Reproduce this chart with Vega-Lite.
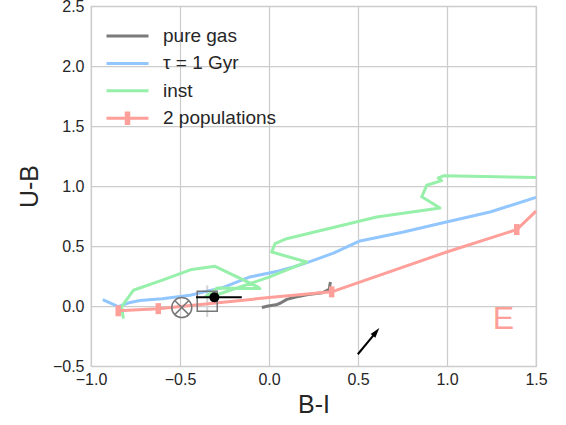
{
  "$schema": "https://vega.github.io/schema/vega-lite/v6.json",
  "width": 445,
  "height": 360,
  "autosize": "none",
  "padding": {"left": 91, "top": 6, "right": 30, "bottom": 59},
  "background": "white",
  "config": {
    "font": "Liberation Sans",
    "view": {"stroke": "#cccccc", "strokeWidth": 1.25},
    "axis": {
      "grid": true, "gridColor": "#cccccc", "gridWidth": 1.25,
      "domain": false, "ticks": false,
      "labelFlush": false, "labelOverlap": false, "labelBound": false,
      "labelFontSize": 16, "labelColor": "#262626",
      "titleFontSize": 25, "titleFontWeight": "normal", "titleColor": "#262626"
    }
  },
  "datasets": {
    "lines": [
      {"series": "pure gas", "ord": 1, "x": -0.04, "y": -0.012},
      {"series": "pure gas", "ord": 2, "x": -0.005, "y": 0.0},
      {"series": "pure gas", "ord": 3, "x": 0.04, "y": 0.01},
      {"series": "pure gas", "ord": 4, "x": 0.065, "y": 0.025},
      {"series": "pure gas", "ord": 5, "x": 0.10, "y": 0.055},
      {"series": "pure gas", "ord": 6, "x": 0.15, "y": 0.075},
      {"series": "pure gas", "ord": 7, "x": 0.22, "y": 0.095},
      {"series": "pure gas", "ord": 8, "x": 0.30, "y": 0.11},
      {"series": "pure gas", "ord": 9, "x": 0.338, "y": 0.14},
      {"series": "pure gas", "ord": 10, "x": 0.345, "y": 0.2},

      {"series": "τ = 1 Gyr", "ord": 1, "x": -0.934, "y": 0.053},
      {"series": "τ = 1 Gyr", "ord": 2, "x": -0.847, "y": -0.005},
      {"series": "τ = 1 Gyr", "ord": 3, "x": -0.78, "y": 0.03},
      {"series": "τ = 1 Gyr", "ord": 4, "x": -0.725, "y": 0.045},
      {"series": "τ = 1 Gyr", "ord": 5, "x": -0.6, "y": 0.06},
      {"series": "τ = 1 Gyr", "ord": 6, "x": -0.444, "y": 0.089},
      {"series": "τ = 1 Gyr", "ord": 7, "x": -0.257, "y": 0.155},
      {"series": "τ = 1 Gyr", "ord": 8, "x": -0.107, "y": 0.242},
      {"series": "τ = 1 Gyr", "ord": 9, "x": 0.05, "y": 0.29},
      {"series": "τ = 1 Gyr", "ord": 10, "x": 0.137, "y": 0.325},
      {"series": "τ = 1 Gyr", "ord": 11, "x": 0.23, "y": 0.37},
      {"series": "τ = 1 Gyr", "ord": 12, "x": 0.362, "y": 0.44},
      {"series": "τ = 1 Gyr", "ord": 13, "x": 0.511, "y": 0.542},
      {"series": "τ = 1 Gyr", "ord": 14, "x": 0.75, "y": 0.615},
      {"series": "τ = 1 Gyr", "ord": 15, "x": 0.96, "y": 0.687},
      {"series": "τ = 1 Gyr", "ord": 16, "x": 1.242, "y": 0.783},
      {"series": "τ = 1 Gyr", "ord": 17, "x": 1.5, "y": 0.905},

      {"series": "inst", "ord": 1, "x": -0.818, "y": -0.105},
      {"series": "inst", "ord": 2, "x": -0.828, "y": -0.005},
      {"series": "inst", "ord": 3, "x": -0.762, "y": 0.131},
      {"series": "inst", "ord": 4, "x": -0.603, "y": 0.214},
      {"series": "inst", "ord": 5, "x": -0.434, "y": 0.305},
      {"series": "inst", "ord": 6, "x": -0.303, "y": 0.331},
      {"series": "inst", "ord": 7, "x": -0.069, "y": 0.164},
      {"series": "inst", "ord": 8, "x": -0.051, "y": 0.145},
      {"series": "inst", "ord": 9, "x": -0.29, "y": 0.15},
      {"series": "inst", "ord": 10, "x": -0.355, "y": 0.08},
      {"series": "inst", "ord": 11, "x": -0.33, "y": 0.075},
      {"series": "inst", "ord": 12, "x": 0.0, "y": 0.24},
      {"series": "inst", "ord": 13, "x": 0.212, "y": 0.367},
      {"series": "inst", "ord": 14, "x": 0.015, "y": 0.45},
      {"series": "inst", "ord": 15, "x": 0.034, "y": 0.52},
      {"series": "inst", "ord": 16, "x": 0.099, "y": 0.561},
      {"series": "inst", "ord": 17, "x": 0.605, "y": 0.742},
      {"series": "inst", "ord": 18, "x": 0.961, "y": 0.817},
      {"series": "inst", "ord": 19, "x": 0.858, "y": 0.91},
      {"series": "inst", "ord": 20, "x": 0.886, "y": 1.006},
      {"series": "inst", "ord": 21, "x": 0.97, "y": 1.045},
      {"series": "inst", "ord": 22, "x": 0.951, "y": 1.067},
      {"series": "inst", "ord": 23, "x": 0.98, "y": 1.085},
      {"series": "inst", "ord": 24, "x": 1.5, "y": 1.07},

      {"series": "2 populations", "ord": 1, "x": -0.847, "y": -0.04},
      {"series": "2 populations", "ord": 2, "x": -0.622, "y": -0.022},
      {"series": "2 populations", "ord": 3, "x": -0.3, "y": 0.025},
      {"series": "2 populations", "ord": 4, "x": 0.0, "y": 0.07},
      {"series": "2 populations", "ord": 5, "x": 0.352, "y": 0.118},
      {"series": "2 populations", "ord": 6, "x": 0.998, "y": 0.45},
      {"series": "2 populations", "ord": 7, "x": 1.392, "y": 0.637},
      {"series": "2 populations", "ord": 8, "x": 1.5, "y": 0.79}
    ],
    "markers": [
      {"x": -0.847, "y": -0.04},
      {"x": -0.622, "y": -0.022},
      {"x": 0.352, "y": 0.118},
      {"x": 1.392, "y": 0.637}
    ],
    "obs": [
      {"kind": "circle", "x": -0.49, "y": -0.013},
      {"kind": "square", "x": -0.347, "y": 0.04},
      {"kind": "dot", "x": -0.307, "y": 0.072}
    ],
    "bars": [
      {"kind": "vert", "x": -0.347, "x2": -0.347, "y": -0.092, "y2": 0.172},
      {"kind": "horiz", "x": -0.41, "x2": -0.153, "y": 0.072, "y2": 0.072},
      {"kind": "arrow", "x": 0.499, "x2": 0.597, "y": -0.402, "y2": -0.226}
    ],
    "arrowhead": [{"x": 0.602, "y": -0.216}],
    "labels": [{"x": 1.317, "y": -0.105, "text": "E"}]
  },
  "layer": [
    {
      "data": {"name": "bars"},
      "transform": [{"filter": "datum.kind === 'vert'"}],
      "mark": {"type": "rule", "color": "#d3d3d3", "strokeWidth": 2},
      "encoding": {
        "x": {"field": "x", "type": "quantitative"},
        "y": {"field": "y", "type": "quantitative"},
        "y2": {"field": "y2"}
      }
    },
    {
      "data": {"name": "lines"},
      "mark": {"type": "line", "strokeWidth": 3, "strokeJoin": "round"},
      "encoding": {
        "x": {
          "field": "x", "type": "quantitative",
          "scale": {"domain": [-1, 1.5], "nice": false, "zero": false},
          "axis": {"values": [-1, -0.5, 0, 0.5, 1, 1.5], "format": ".1f", "title": "B-I", "labelPadding": 5, "titlePadding": 5}
        },
        "y": {
          "field": "y", "type": "quantitative",
          "scale": {"domain": [-0.5, 2.5], "nice": false, "zero": false},
          "axis": {"values": [-0.5, 0, 0.5, 1, 1.5, 2, 2.5], "format": ".1f", "title": "U-B", "labelPadding": 7, "titlePadding": 10}
        },
        "order": {"field": "ord", "type": "quantitative"},
        "color": {
          "field": "series", "type": "nominal",
          "scale": {
            "domain": ["pure gas", "τ = 1 Gyr", "inst", "2 populations"],
            "range": ["#7a7a7a", "#92c6ff", "#97f0aa", "#ff9f9a"]
          },
          "legend": {
            "title": null,
            "orient": "none",
            "legendX": 24.5,
            "legendY": 18,
            "padding": 0,
            "symbolType": "M-2,0H2",
            "symbolSize": 441,
            "symbolStrokeWidth": 3,
            "labelFontSize": 19,
            "labelColor": "#262626",
            "labelOffset": 23.5,
            "rowPadding": 5.4,
            "encode": {
              "symbols": {
                "update": {
                  "shape": {"signal": "datum.value === '2 populations' ? 'M-2,0H2M-0.12,-0.5H0.12V0.5H-0.12Z' : 'M-2,0H2'"}
                }
              }
            }
          }
        }
      }
    },
    {
      "data": {"name": "markers"},
      "mark": {"type": "point", "shape": "M-0.5,-1H0.5V1H-0.5Z", "filled": true, "size": 121, "color": "#ff9f9a", "opacity": 1},
      "encoding": {
        "x": {"field": "x", "type": "quantitative"},
        "y": {"field": "y", "type": "quantitative"}
      }
    },
    {
      "data": {"name": "obs"},
      "transform": [{"filter": "datum.kind === 'circle'"}],
      "mark": {"type": "point", "shape": "M1,0A1,1,0,1,1,-1,0A1,1,0,1,1,1,0ZM-0.707,-0.707L0.707,0.707M-0.707,0.707L0.707,-0.707", "filled": false, "size": 400, "color": "#777777", "strokeWidth": 1.5, "opacity": 1},
      "encoding": {
        "x": {"field": "x", "type": "quantitative"},
        "y": {"field": "y", "type": "quantitative"}
      }
    },
    {
      "data": {"name": "obs"},
      "transform": [{"filter": "datum.kind === 'square'"}],
      "mark": {"type": "point", "shape": "square", "filled": false, "size": 400, "color": "#777777", "strokeWidth": 1.5, "opacity": 1},
      "encoding": {
        "x": {"field": "x", "type": "quantitative"},
        "y": {"field": "y", "type": "quantitative"}
      }
    },
    {
      "data": {"name": "bars"},
      "transform": [{"filter": "datum.kind !== 'vert'"}],
      "mark": {"type": "rule", "color": "black", "strokeWidth": 2},
      "encoding": {
        "x": {"field": "x", "type": "quantitative"},
        "x2": {"field": "x2"},
        "y": {"field": "y", "type": "quantitative"},
        "y2": {"field": "y2"}
      }
    },
    {
      "data": {"name": "obs"},
      "transform": [{"filter": "datum.kind === 'dot'"}],
      "mark": {"type": "point", "shape": "circle", "filled": true, "size": 100, "color": "black", "opacity": 1},
      "encoding": {
        "x": {"field": "x", "type": "quantitative"},
        "y": {"field": "y", "type": "quantitative"}
      }
    },
    {
      "data": {"name": "arrowhead"},
      "mark": {"type": "point", "shape": "M0,-1L0.6,1L-0.6,1Z", "filled": true, "size": 100, "angle": 39.4, "color": "black", "opacity": 1},
      "encoding": {
        "x": {"field": "x", "type": "quantitative"},
        "y": {"field": "y", "type": "quantitative"}
      }
    },
    {
      "data": {"name": "labels"},
      "mark": {"type": "text", "fontSize": 32, "color": "#ff9f9a", "align": "center", "baseline": "middle"},
      "encoding": {
        "x": {"field": "x", "type": "quantitative"},
        "y": {"field": "y", "type": "quantitative"},
        "text": {"field": "text"}
      }
    }
  ]
}
